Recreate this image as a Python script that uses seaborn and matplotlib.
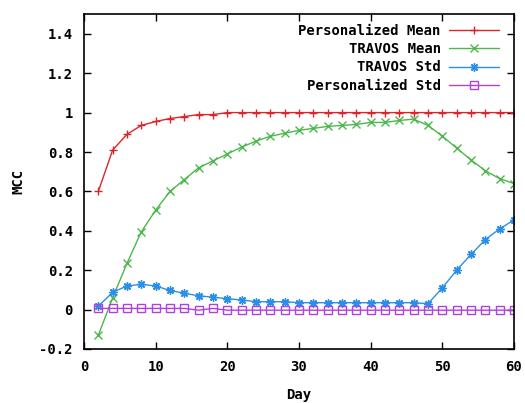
import matplotlib
matplotlib.use("Agg")
import matplotlib.pyplot as plt
import seaborn as sns
import pandas as pd

# -------- DATA --------
days = list(range(2, 62, 2))

personalized_mean = [0.60, 0.81, 0.89, 0.935, 0.955, 0.97, 0.98, 0.99, 0.99, 1.0,
                     1.0, 1.0, 1.0, 1.0, 1.0, 1.0, 1.0, 1.0, 1.0, 1.0,
                     1.0, 1.0, 1.0, 1.0, 1.0, 1.0, 1.0, 1.0, 1.0, 1.0]
travos_mean = [-0.13, 0.06, 0.235, 0.395, 0.505, 0.60, 0.66, 0.72, 0.755, 0.79,
               0.825, 0.855, 0.88, 0.895, 0.91, 0.92, 0.93, 0.935, 0.94, 0.95,
               0.95, 0.96, 0.967, 0.935, 0.88, 0.82, 0.76, 0.705, 0.665, 0.64]
travos_std = [0.017, 0.088, 0.12, 0.128, 0.12, 0.097, 0.083, 0.07, 0.063, 0.055,
              0.049, 0.04, 0.04, 0.04, 0.035, 0.035, 0.035, 0.035, 0.035, 0.035,
              0.035, 0.035, 0.035, 0.03, 0.11, 0.20, 0.28, 0.355, 0.41, 0.455]
personalized_std = [0.006, 0.006, 0.006, 0.006, 0.006, 0.006, 0.006, -0.003, 0.006, -0.003,
                    -0.003, -0.003, -0.003, -0.003, -0.003, -0.003, -0.003, -0.003, -0.003, -0.003,
                    -0.003, -0.003, -0.003, -0.003, -0.003, -0.003, -0.003, -0.003, -0.003, -0.003]

series = [
    ("Personalized Mean", personalized_mean, "#d9252b", "+"),
    ("TRAVOS Mean", travos_mean, "#4cb84c", "x"),
    ("TRAVOS Std", travos_std, "#2b8fe6", (8, 2, 0)),
    ("Personalized Std", personalized_std, "#b040e0", "s"),
]

# -------- VISUALIZATION --------
sns.set_style("ticks")
plt.rcParams["font.family"] = ["DejaVu Sans Mono"]
plt.rcParams["font.weight"] = "bold"
plt.rcParams["text.color"] = "black"
plt.rcParams["axes.labelcolor"] = "black"

fig, ax = plt.subplots(figsize=(5.25, 4.03), dpi=100)
fig.subplots_adjust(left=0.16, right=0.979, top=0.965, bottom=0.134)

for label, vals, color, marker in series:
    df = pd.DataFrame({"Day": days, "MCC": vals})
    kw = dict(markersize=6, markeredgewidth=1.0, markeredgecolor=color)
    if marker == "s":
        kw.update(markerfacecolor="none", markersize=5.5)
    sns.lineplot(data=df, x="Day", y="MCC", ax=ax, color=color, marker=marker,
                 linewidth=1.0, label=label, **kw)

ax.set_xlim(0, 60)
ax.set_ylim(-0.2, 1.5)
ax.set_xticks(range(0, 61, 10))
ax.set_yticks([-0.2, 0, 0.2, 0.4, 0.6, 0.8, 1, 1.2, 1.4])
ax.set_yticklabels(["-0.2", "0", "0.2", "0.4", "0.6", "0.8", "1", "1.2", "1.4"])
ax.tick_params(direction="in", length=5, width=1, top=True, right=True,
               labelsize=10, colors="black", pad=8)
for sp in ax.spines.values():
    sp.set_visible(True)
    sp.set_linewidth(1.2)
    sp.set_color("black")

ax.set_xlabel("Day", fontsize=10, fontweight="bold", labelpad=10)
ax.set_ylabel("MCC", fontsize=10, fontweight="bold", labelpad=10)

leg = ax.legend(loc="upper right", bbox_to_anchor=(0.985, 0.995), frameon=False,
                markerfirst=False, fontsize=10, handlelength=3.6,
                labelspacing=0.3, handletextpad=0.6, borderaxespad=0.2)

plt.savefig("out.png", dpi=100)
